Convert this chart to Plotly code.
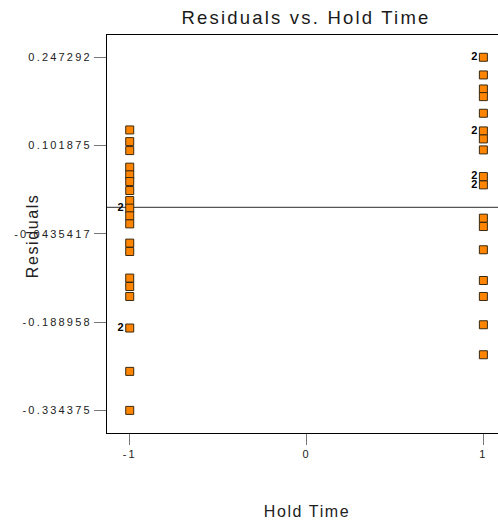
import plotly.graph_objects as go
from collections import Counter

# Data
hold_time = [-1] * 21 + [1] * 21
residuals = [
    # Hold Time = -1
    0.1276, 0.1084, 0.0936, 0.0663, 0.0536, 0.0426, 0.0278, 0.0113,
    -0.0012, -0.0012, -0.0139, -0.0271, -0.0588, -0.0726, -0.1164,
    -0.1303, -0.1467, -0.1987, -0.1987, -0.2701, -0.334375,
    # Hold Time = 1
    0.247292, 0.247292, 0.2182, 0.1951, 0.1825, 0.1551, 0.1260, 0.1260,
    0.1128, 0.0947, 0.0508, 0.0508, 0.0371, 0.0371,
    -0.0177, -0.0315, -0.0698, -0.1204, -0.1467, -0.1933, -0.2427,
]
y_tick_vals = [0.247292, 0.101875, -0.0435417, -0.188958, -0.334375]
y_tick_text = ["0.247292", "0.101875", "-0.0435417", "-0.188958", "-0.334375"]
x_tick_vals = [-1, 0, 1]
x_tick_text = ["-1", "0", "1"]

# one marker per distinct point, labelled with its count when > 1
counts = Counter(zip(hold_time, residuals))
pts_x = [k[0] for k in counts]
pts_y = [k[1] for k in counts]
pts_t = [str(c) if c > 1 else "" for c in counts.values()]

FONT = "Liberation Sans, Arial, sans-serif"
W, H = 498, 525
ML, MT, MB, MR = 107, 35, 92, 0

fig = go.Figure()
fig.add_hline(y=0, line=dict(color="#555555", width=1.2), layer="below")
fig.add_trace(go.Scatter(
    x=pts_x, y=pts_y, text=pts_t, mode="markers+text",
    textposition="middle left",
    textfont=dict(family=FONT, size=11, color="#000000", weight="bold"),
    marker=dict(symbol="square", size=8, color="#FF8400",
                line=dict(color="#3a2a10", width=1)),
    showlegend=False, cliponaxis=False,
))

fig.update_layout(
    width=W, height=H,
    margin=dict(l=ML, r=MR, t=MT, b=MB, autoexpand=False),
    paper_bgcolor="white", plot_bgcolor="white",
    title=dict(text="Residuals vs. Hold Time", x=306 / W, xanchor="center",
               y=1 - 18 / H, yanchor="middle",
               font=dict(family=FONT, size=18.5, color="#1a1a1a")),
    font=dict(family=FONT, size=11, color="#222222"),
)
fig.update_xaxes(
    range=[-1.1285, 1.0826], tickvals=x_tick_vals, ticktext=x_tick_text,
    showgrid=False, zeroline=False, showline=True, linecolor="black",
    linewidth=1, mirror=True, ticks="outside", ticklen=11, tickcolor="#777777",
    tickfont=dict(family=FONT, size=11, color="#222222"), automargin=False,
)
fig.update_yaxes(
    range=[-0.3716, 0.2840], tickvals=y_tick_vals, ticktext=y_tick_text,
    showgrid=False, zeroline=False, showline=True, linecolor="black",
    linewidth=1, mirror=False, ticks="outside", ticklen=12, tickcolor="#777777",
    tickfont=dict(family=FONT, size=11, color="#222222"), automargin=False,
)
pw, ph = W - ML - MR, H - MT - MB
fig.add_annotation(text="Residuals", textangle=-90,
                   x=(32 - ML) / pw, y=(H - MB - 236) / ph,
                   xref="paper", yref="paper", xanchor="center", yanchor="middle",
                   showarrow=False,
                   font=dict(family=FONT, size=16, color="#222222"))
fig.add_annotation(text="Hold Time",
                   x=(307 - ML) / pw, y=(H - MB - 511) / ph,
                   xref="paper", yref="paper", xanchor="center", yanchor="middle",
                   showarrow=False,
                   font=dict(family=FONT, size=16, color="#222222"))

post = """
document.body.style.margin = '0';
var gd = document.getElementById('{plot_id}');
function sp(sel, v) { gd.querySelectorAll(sel).forEach(function(t){ t.style.letterSpacing = v; }); }
sp('.gtitle', '2.2px');
sp('.ytick text', '2.2px');
sp('.xtick text', '2px');
sp('.annotation-text', '1.6px');
"""
fig.write_html("out.html", post_script=post, config={"displayModeBar": False})
